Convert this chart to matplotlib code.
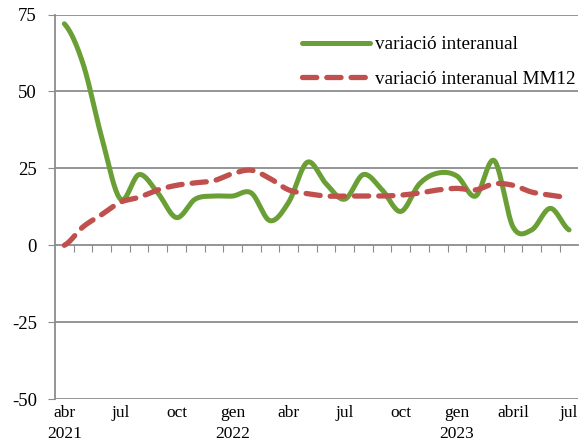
import numpy as np
import matplotlib.pyplot as plt

# monthly values, abr 2021 .. jul 2023
var_interanual = [72, 59, 35, 15, 23, 17, 9, 15, 16, 16, 17, 8, 14, 27, 20, 15,
                  23, 18, 11, 20, 23.5, 22.5, 16, 27.5, 6, 5, 12, 5]
var_mm12 = [0, 6, 10, 14, 15.6, 18, 19.5, 20.3, 21, 23.3, 24.4, 21.7, 18, 16.8, 16,
            16, 16, 16, 16.3, 17, 18, 18.5, 18, 20, 19.5, 17.3, 16.3, 15.5]
month_labels = ['abr', 'jul', 'oct', 'gen', 'abr', 'jul', 'oct', 'gen', 'abril', 'jul']
month_pos = [0, 3, 6, 9, 12, 15, 18, 21, 24, 27]
year_labels = ['2021', '2022', '2023']
year_pos = [0, 9, 21]


def smooth(y, n=20):
    # catmull-rom style curve through the points (like excel smoothed lines)
    y = np.asarray(y, dtype=float)
    p = np.concatenate([[y[0]], y, [y[-1]]])
    xs, ys = [], []
    for i in range(len(y) - 1):
        p0, p1, p2, p3 = p[i], p[i + 1], p[i + 2], p[i + 3]
        t = np.linspace(0, 1, n, endpoint=False)
        v = 0.5 * (2 * p1 + (-p0 + p2) * t + (2 * p0 - 5 * p1 + 4 * p2 - p3) * t ** 2
                   + (-p0 + 3 * p1 - 3 * p2 + p3) * t ** 3)
        xs.append(i + t)
        ys.append(v)
    xs.append([len(y) - 1])
    ys.append([y[-1]])
    return np.concatenate(xs), np.concatenate(ys)


plt.rcParams['font.family'] = ['Liberation Serif', 'DejaVu Serif']
plt.rcParams['axes.unicode_minus'] = False
fig = plt.figure(figsize=(5.79, 4.41), dpi=100)
ax = fig.add_axes([0.095, 0.095, 0.904, 0.872])

grey = '#8c8c8c'
for v in [-50, -25, 25, 50, 75]:
    ax.axhline(v, color=grey, lw=1.3, zorder=1)

x1, y1 = smooth(var_interanual)
x2, y2 = smooth(var_mm12)
ax.plot(x1, y1, color='#6a9f36', lw=3.6, solid_capstyle='round',
        label='variació interanual', zorder=3)
ax.plot(x2, y2, color='#c0504d', lw=3.8, dashes=(2.7, 1.9), dash_capstyle='round',
        label='variació interanual MM12', zorder=3)

ax.set_xlim(-0.5, 27.5)
ax.set_ylim(-50, 75)
ax.set_yticks([-50, -25, 0, 25, 50, 75])
ax.tick_params(axis='y', length=5, color=grey, labelsize=13.5, pad=8)

ax.spines['right'].set_visible(False)
ax.spines['top'].set_visible(False)
ax.spines['left'].set_color(grey)
ax.spines['left'].set_linewidth(1.3)
ax.spines['bottom'].set_position(('data', 0))
ax.spines['bottom'].set_color(grey)
ax.spines['bottom'].set_linewidth(1.3)
ax.set_xticks(np.arange(0.5, 27.5, 1))
ax.tick_params(axis='x', length=5, color=grey, labelbottom=False)

trans = ax.get_xaxis_transform()
for p, lab in zip(month_pos, month_labels):
    ax.text(p, -0.015, lab, transform=trans, ha='center', va='top', fontsize=12.5)
for p, lab in zip(year_pos, year_labels):
    ax.text(p, -0.07, lab, transform=trans, ha='center', va='top', fontsize=12.5)

leg = fig.legend(*ax.get_legend_handles_labels(), loc='upper left',
                 bbox_to_anchor=(302 / 579, 1 - 36 / 441), frameon=False,
                 fontsize=13.8, handlelength=3.55, handletextpad=0.28,
                 labelspacing=0.9, borderpad=0, borderaxespad=0)

fig.savefig('out.png', dpi=100)
